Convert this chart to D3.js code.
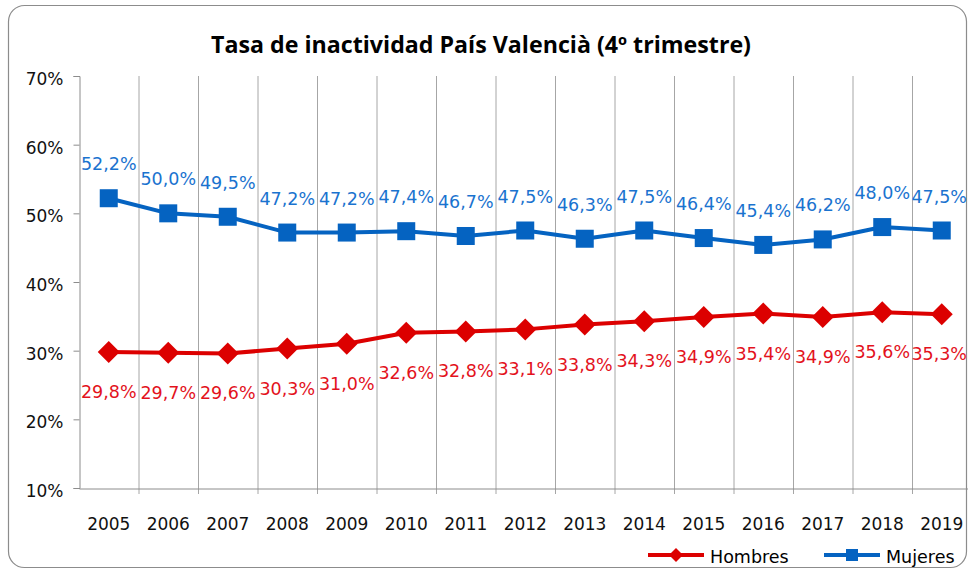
<!DOCTYPE html>
<html>
<head>
<meta charset="utf-8">
<script src="https://cdn.jsdelivr.net/npm/d3@7"></script>
<style>
  body { margin: 0; background: #fff; }
  svg text { font-family: "DejaVu Sans", Verdana, sans-serif; }
</style>
</head>
<body>
<svg id="chart" width="968" height="571"></svg>
<script>
const years = ['2005','2006','2007','2008','2009','2010','2011','2012','2013','2014','2015','2016','2017','2018','2019'];
const hombres = [29.8, 29.7, 29.6, 30.3, 31.0, 32.6, 32.8, 33.1, 33.8, 34.3, 34.9, 35.4, 34.9, 35.6, 35.3];
const mujeres = [52.2, 50.0, 49.5, 47.2, 47.2, 47.4, 46.7, 47.5, 46.3, 47.5, 46.4, 45.4, 46.2, 48.0, 47.5];
const yTicks = [10, 20, 30, 40, 50, 60, 70];

const svg = d3.select('#chart');
const margin = { top: 76, left: 79, bottom: 488, right: 971.5 };

// outer frame
svg.append('rect')
  .attr('x', 8.5).attr('y', 5.5)
  .attr('width', 958).attr('height', 562)
  .attr('rx', 16)
  .attr('fill', '#fff')
  .attr('stroke', '#8c8c8c')
  .attr('stroke-width', 1.2);

svg.append('text')
  .attr('x', 481).attr('y', 53)
  .attr('text-anchor', 'middle')
  .attr('textLength', 540)
  .attr('lengthAdjust', 'spacingAndGlyphs')
  .style('font-family', '"Open Sans", sans-serif')
  .style('font-weight', 700)
  .style('font-size', '22.5px')
  .attr('fill', '#000')
  .text('Tasa de inactividad País Valencià (4º trimestre)');

const x = d3.scaleBand().domain(years).range([margin.left, margin.right]).padding(0);
const y = d3.scaleLinear().domain([10, 70]).range([margin.bottom, margin.top]);

// vertical separators between categories
svg.append('g').selectAll('line')
  .data(years.slice(1))
  .enter().append('line')
  .attr('x1', d => x(d) + 0.5).attr('x2', d => x(d) + 0.5)
  .attr('y1', margin.top).attr('y2', margin.bottom + 6)
  .attr('stroke', '#a6a6a6')
  .attr('stroke-width', 1);

// y axis
const yAxis = svg.append('g')
  .attr('transform', `translate(${margin.left + 0.5},0)`)
  .call(d3.axisLeft(y).tickValues(yTicks).tickSize(6).tickPadding(10).tickFormat(d => d + '%'));
yAxis.select('.domain').attr('stroke', '#8c8c8c');
yAxis.selectAll('.tick line').attr('stroke', '#8c8c8c');
yAxis.selectAll('.tick text').style('font-size', '17px').attr('fill', '#111')
  .attr('y', 3)
  .style('font-family', '"DejaVu Sans", sans-serif');

// x axis
const xAxis = svg.append('g')
  .attr('transform', `translate(0,${margin.bottom + 0.5})`)
  .call(d3.axisBottom(x).tickSize(0).tickPadding(29));
xAxis.select('.domain').attr('stroke', '#8c8c8c');
xAxis.selectAll('.tick text').style('font-size', '17px').attr('fill', '#111')
  .style('font-family', '"DejaVu Sans", sans-serif');

const cx = d => x(d) + x.bandwidth() / 2;
const line = d3.line()
  .x((d, i) => cx(years[i]))
  .y(d => y(d));

// keep the last data label inside the page
const last = years.length - 1;
const labelX = i => i === last ? 967 : cx(years[i]);
const labelAnchor = i => i === last ? 'end' : 'middle';

const red = '#dc0000';
const blue = '#0563c1';

// Hombres
svg.append('path')
  .datum(hombres)
  .attr('fill', 'none')
  .attr('stroke', red)
  .attr('stroke-width', 4)
  .attr('stroke-linejoin', 'round')
  .attr('d', line);

svg.append('g').selectAll('path')
  .data(hombres)
  .enter().append('path')
  .attr('transform', (d, i) => `translate(${cx(years[i])},${y(d)})`)
  .attr('d', 'M0,-11L11,0L0,11L-11,0Z')
  .attr('fill', red);

svg.append('g').selectAll('text')
  .data(hombres)
  .enter().append('text')
  .attr('x', (d, i) => labelX(i))
  .attr('y', d => y(d) + 46)
  .attr('text-anchor', (d, i) => labelAnchor(i))
  .style('font-size', '17.5px')
  .attr('fill', '#e3121c')
  .text(d => d.toFixed(1).replace('.', ',') + '%');

// Mujeres
svg.append('path')
  .datum(mujeres)
  .attr('fill', 'none')
  .attr('stroke', blue)
  .attr('stroke-width', 4)
  .attr('stroke-linejoin', 'round')
  .attr('d', line);

svg.append('g').selectAll('rect')
  .data(mujeres)
  .enter().append('rect')
  .attr('x', (d, i) => cx(years[i]) - 9)
  .attr('y', d => y(d) - 9)
  .attr('width', 18).attr('height', 18)
  .attr('fill', blue);

svg.append('g').selectAll('text')
  .data(mujeres)
  .enter().append('text')
  .attr('x', (d, i) => labelX(i))
  .attr('y', d => y(d) - 28)
  .attr('text-anchor', (d, i) => labelAnchor(i))
  .style('font-size', '17.5px')
  .attr('fill', '#1a73cf')
  .text(d => d.toFixed(1).replace('.', ',') + '%');

// legend
const legend = [
  { name: 'Hombres', color: red, shape: 'diamond', x0: 648 },
  { name: 'Mujeres', color: blue, shape: 'square', x0: 824 }
];
const lg = svg.append('g').selectAll('g')
  .data(legend)
  .enter().append('g')
  .attr('transform', d => `translate(${d.x0},555)`);
lg.append('line')
  .attr('x1', 0).attr('x2', 56)
  .attr('stroke', d => d.color)
  .attr('stroke-width', 4);
lg.append('path')
  .attr('transform', 'translate(28,0)')
  .attr('d', d => d.shape === 'diamond' ? 'M0,-7L7,0L0,7L-7,0Z' : 'M-6,-6H6V6H-6Z')
  .attr('fill', d => d.color);
lg.append('text')
  .attr('x', 62).attr('y', 8)
  .style('font-size', '17.5px')
  .attr('fill', '#000')
  .text(d => d.name);
</script>
</body>
</html>
